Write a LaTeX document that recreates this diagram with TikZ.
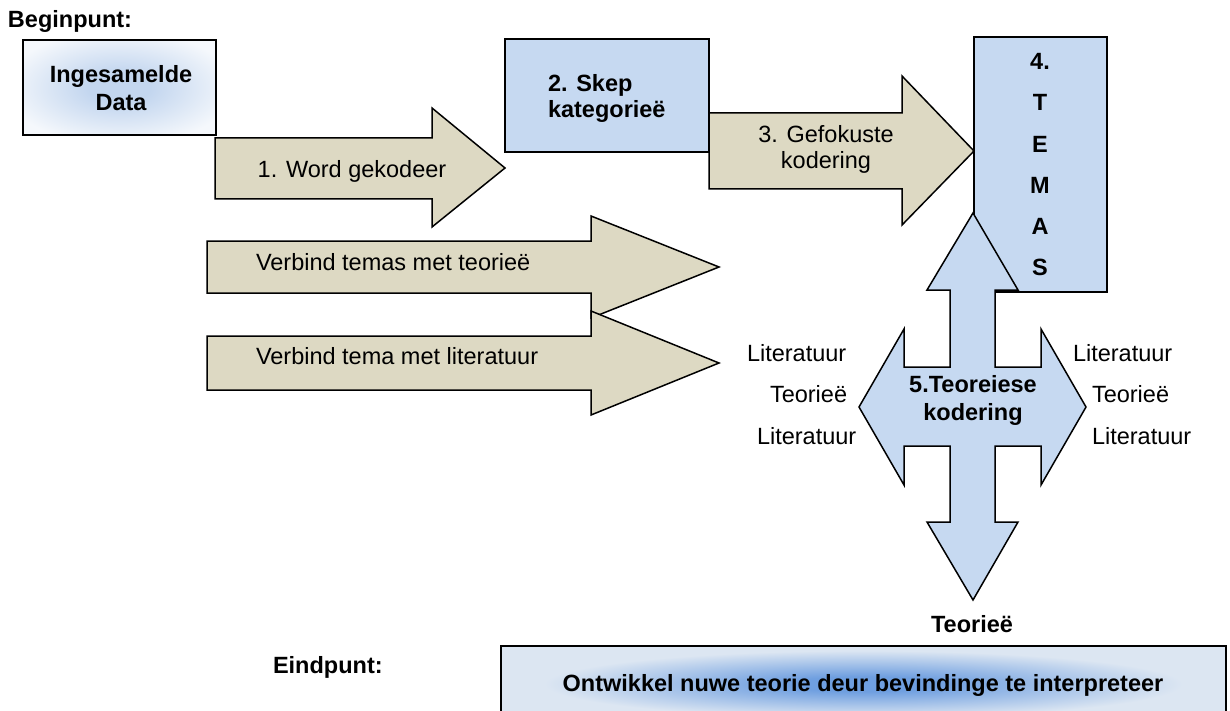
\documentclass[tikz,border=0pt]{standalone}
\usepackage{fontspec}
\setmainfont{Liberation Sans}
\definecolor{tanfill}{HTML}{DDD9C3}
\definecolor{bluefill}{HTML}{C6D9F1}
\definecolor{glowAin}{HTML}{C3D6EF}
\definecolor{glowAout}{HTML}{F5F8FC}
\definecolor{glowBin}{HTML}{6F9FE0}
\definecolor{glowBout}{HTML}{DCE6F2}
\pgfdeclareradialshading{glowA}{\pgfpoint{0bp}{0bp}}{color(0bp)=(glowAin); color(8bp)=(glowAin); color(30bp)=(glowAout); color(80bp)=(glowAout)}
\pgfdeclareradialshading{glowB}{\pgfpoint{0bp}{0bp}}{color(0bp)=(glowBin); color(5bp)=(glowBin); color(22bp)=(glowBout); color(80bp)=(glowBout)}
\begin{document}
\begin{tikzpicture}[x=1pt,y=-1pt,
  shapeline/.style={draw=black, line width=1.5pt, line join=miter},
  tanarrow/.style={shapeline, fill=tanfill},
  bluebox/.style={shapeline, fill=bluefill},
  txt/.style={inner sep=0pt, outer sep=0pt, font=\fontsize{23.5}{28}\selectfont},
  btxt/.style={txt, font=\fontsize{23.5}{28}\selectfont\bfseries}]
\useasboundingbox (0,0) rectangle (1230,711);

% start box
\node[btxt, anchor=base west] (begin) at (8,28) {Beginpunt:};
\shadedraw[shading=glowA, line width=1.5pt] (23,40) rectangle (216,135);
\node[btxt, align=center] (data) at (121,88.5) {Ingesamelde\\Data};

% arrow 1
\path[tanarrow] (215,138) -- (432,138) -- (432,108) -- (505,168) -- (432,227) -- (432,199) -- (215,199) -- cycle;
\node[txt, anchor=base] (code) at (352,178) {1. Word gekodeer};

% box 2
\path[bluebox] (505,39) rectangle (709,152);
\node[btxt, align=left, anchor=west, font=\fontsize{23.5}{26}\selectfont\bfseries] (cat) at (548,98.9) {2. Skep\\kategorieë};

% arrow 3
\path[tanarrow] (709,113) -- (902,113) -- (902,76) -- (974,151) -- (902,225) -- (902,189) -- (709,189) -- cycle;
\node[txt, align=center, font=\fontsize{23.5}{26}\selectfont] (focus) at (826,149.9) {3. Gefokuste\\kodering};

% verbind arrows
\path[tanarrow] (207,241) -- (591,241) -- (591,216) -- (719,267) -- (591,318) -- (591,293) -- (207,293) -- cycle;
\node[txt, anchor=base west] (vt) at (256,270) {Verbind temas met teorieë};
\path[tanarrow] (207,336) -- (591,336) -- (591,311) -- (719,363) -- (591,415) -- (591,390) -- (207,390) -- cycle;
\node[txt, anchor=base west] (vl) at (256,364) {Verbind tema met literatuur};

% TEMAS box
\path[bluebox] (974,37) rectangle (1107,292);
\node[btxt, align=center, font=\fontsize{23.5}{41.2}\selectfont\bfseries] (temas) at (1040,164.7) {4.\\T\\E\\M\\A\\S};

% four-way arrow
\path[bluebox] (973,213) -- (1018,290) -- (995,290) -- (995,367) -- (1041,367) -- (1041,329) -- (1086,407)
  -- (1041,485) -- (1041,446) -- (995,446) -- (995,522) -- (1018,522) -- (973,600) -- (927,522)
  -- (950,522) -- (950,446) -- (904,446) -- (904,485) -- (859,407) -- (904,329) -- (904,367)
  -- (950,367) -- (950,290) -- (927,290) -- cycle;
\node[btxt, align=center] (theo) at (973,400) {5.Teoreiese\\kodering};

% side labels
\node[txt, anchor=base west] (l1) at (747,361) {Literatuur};
\node[txt, anchor=base west] (l2) at (770,402) {Teorieë};
\node[txt, anchor=base west] (l3) at (757,444) {Literatuur};
\node[txt, anchor=base west] (r1) at (1073,361) {Literatuur};
\node[txt, anchor=base west] (r2) at (1092,402) {Teorieë};
\node[txt, anchor=base west] (r3) at (1092,444) {Literatuur};

\node[btxt, anchor=base] (teo) at (972,632) {Teorieë};

% end
\node[btxt, anchor=base west] (end) at (273,673) {Eindpunt:};
\shadedraw[shading=glowB, line width=1.5pt] (501,646) rectangle (1226,722);
\node[btxt, anchor=base] (final) at (863,691) {Ontwikkel nuwe teorie deur bevindinge te interpreteer};
\end{tikzpicture}
\end{document}
